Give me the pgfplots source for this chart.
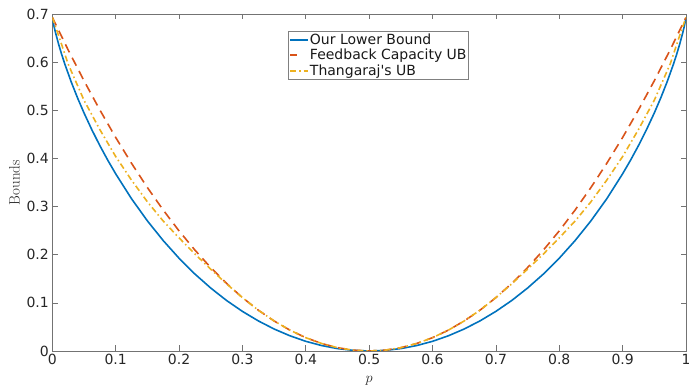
\documentclass[border=0pt]{standalone}
\usepackage{pgfplots}
\pgfplotsset{compat=1.18}
\usepackage{fontspec}
\newfontfamily\dejavu{DejaVu Sans}
\definecolor{mblue}{rgb}{0,0.447,0.741}
\definecolor{morange}{rgb}{0.850,0.325,0.098}
\definecolor{myellow}{rgb}{0.929,0.694,0.125}
\pgfplotsset{
  every axis y label/.style={at={(axis description cs:-0.0595,0.5)}, anchor=center, rotate=90, font=\fontsize{15bp}{17bp}\selectfont, text=black!85},
  every axis x label/.style={at={(axis description cs:0.5,-0.089)}, anchor=center, font=\fontsize{15bp}{17bp}\selectfont, text=black!85},
}
\begin{document}
\begin{tikzpicture}
\begin{axis}[
  at={(0,0)}, anchor=south west,
  width=633.7bp, height=337bp, scale only axis,
  xmin=0, xmax=1, ymin=0, ymax=0.7,
  xtick={0,0.1,0.2,0.3,0.4,0.5,0.6,0.7,0.8,0.9,1},
  xticklabels={0,0.1,0.2,0.3,0.4,0.5,0.6,0.7,0.8,0.9,1},
  ytick={0,0.1,0.2,0.3,0.4,0.5,0.6,0.7},
  yticklabels={0,0.1,0.2,0.3,0.4,0.5,0.6,0.7},
  tick align=inside, major tick length=5.5bp,
  tick style={black!55, line width=0.6bp},
  axis line style={black!55, line width=0.6bp},
  ticklabel style={font=\dejavu\fontsize{14bp}{16bp}\selectfont, text=black!85},
  /pgf/number format/assume math mode=true,
  xlabel={$p$},
  ylabel={Bounds},
  legend style={at={(0.3719,0.9496)}, anchor=north west, draw=black!50,
    font=\dejavu\fontsize{14bp}{16bp}\selectfont, text=black!90,
    inner xsep=1bp, inner ysep=1.5bp, nodes={inner sep=0.8bp}, row sep=1.8bp},
  legend cell align=left,
]
\addplot[mblue, line width=1.6bp, legend image code/.code={\draw[mblue, line width=2bp] (0bp,0bp) -- (18bp,0bp);}] coordinates {
(0,0.6931)(0.0025,0.6756)(0.005,0.6616)(0.01,0.6371)(0.015,0.6152)(0.02,0.5951)(0.03,0.5584)(0.04,0.5252)(0.05,0.4946)(0.0625,0.4593)(0.075,0.4267)(0.0875,0.3964)(0.1,0.3681)(0.125,0.3163)(0.15,0.2704)(0.175,0.2294)(0.2,0.1927)(0.225,0.1599)(0.25,0.1308)(0.275,0.1049)(0.3,0.0823)(0.325,0.0626)(0.35,0.0457)(0.375,0.0316)(0.4,0.0201)(0.425,0.0113)(0.45,0.0050)(0.475,0.0013)(0.5,0)
(0.525,0.0013)(0.55,0.0050)(0.575,0.0113)(0.6,0.0201)(0.625,0.0316)(0.65,0.0457)(0.675,0.0626)(0.7,0.0823)(0.725,0.1049)(0.75,0.1308)(0.775,0.1599)(0.8,0.1927)(0.825,0.2294)(0.85,0.2704)(0.875,0.3163)(0.9,0.3681)(0.9125,0.3964)(0.925,0.4267)(0.9375,0.4593)(0.95,0.4946)(0.96,0.5252)(0.97,0.5584)(0.98,0.5951)(0.985,0.6152)(0.99,0.6371)(0.995,0.6616)(0.9975,0.6756)(1,0.6931)
};
\addlegendentry{Our Lower Bound}
\addplot[morange, line width=1.6bp, dash pattern=on 9bp off 6bp, legend image code/.code={\draw[morange, line width=2bp] (0bp,0bp) -- (7bp,0bp);}] coordinates {
(0,0.6931)(0.025,0.6255)(0.05,0.5614)(0.075,0.5008)(0.1,0.4436)(0.125,0.3899)(0.15,0.3396)(0.175,0.2928)(0.2,0.2495)(0.225,0.2097)(0.25,0.1733)(0.275,0.1404)(0.3,0.1109)(0.325,0.0849)(0.35,0.0624)(0.375,0.0433)(0.4,0.0277)(0.425,0.0156)(0.45,0.0069)(0.475,0.0017)(0.5,0)
(0.525,0.0017)(0.55,0.0069)(0.575,0.0156)(0.6,0.0277)(0.625,0.0433)(0.65,0.0624)(0.675,0.0849)(0.7,0.1109)(0.725,0.1404)(0.75,0.1733)(0.775,0.2097)(0.8,0.2495)(0.825,0.2928)(0.85,0.3396)(0.875,0.3899)(0.9,0.4436)(0.925,0.5008)(0.95,0.5614)(0.975,0.6255)(1,0.6931)
};
\addlegendentry{Feedback Capacity UB}
\addplot[myellow, line width=1.6bp, dash pattern=on 6bp off 3bp on 1.5bp off 3bp, legend image code/.code={\draw[myellow, line width=2bp, dash pattern=on 6bp off 3bp on 1.5bp off 3bp] (0bp,0bp) -- (18bp,0bp);}] coordinates {
(0,0.6931)(0.01,0.655)(0.025,0.596)(0.05,0.521)(0.075,0.460)(0.1,0.404)(0.125,0.355)(0.15,0.310)(0.175,0.270)(0.2,0.235)(0.225,0.2015)(0.25,0.170)(0.275,0.1395)(0.3,0.1109)(0.325,0.0849)(0.35,0.0624)(0.375,0.0433)(0.4,0.0277)(0.425,0.0156)(0.45,0.0069)(0.475,0.0017)(0.5,0)
(0.525,0.0017)(0.55,0.0069)(0.575,0.0156)(0.6,0.0277)(0.625,0.0433)(0.65,0.0624)(0.675,0.0849)(0.7,0.1109)(0.725,0.1395)(0.75,0.170)(0.775,0.2015)(0.8,0.235)(0.825,0.270)(0.85,0.310)(0.875,0.355)(0.9,0.404)(0.925,0.460)(0.95,0.521)(0.975,0.596)(0.99,0.655)(1,0.6931)
};
\addlegendentry{Thangaraj's UB}
\end{axis}
\pgfresetboundingbox
\useasboundingbox (-52.3bp,-37bp) rectangle (636.7bp,351bp);
\end{tikzpicture}
\end{document}
